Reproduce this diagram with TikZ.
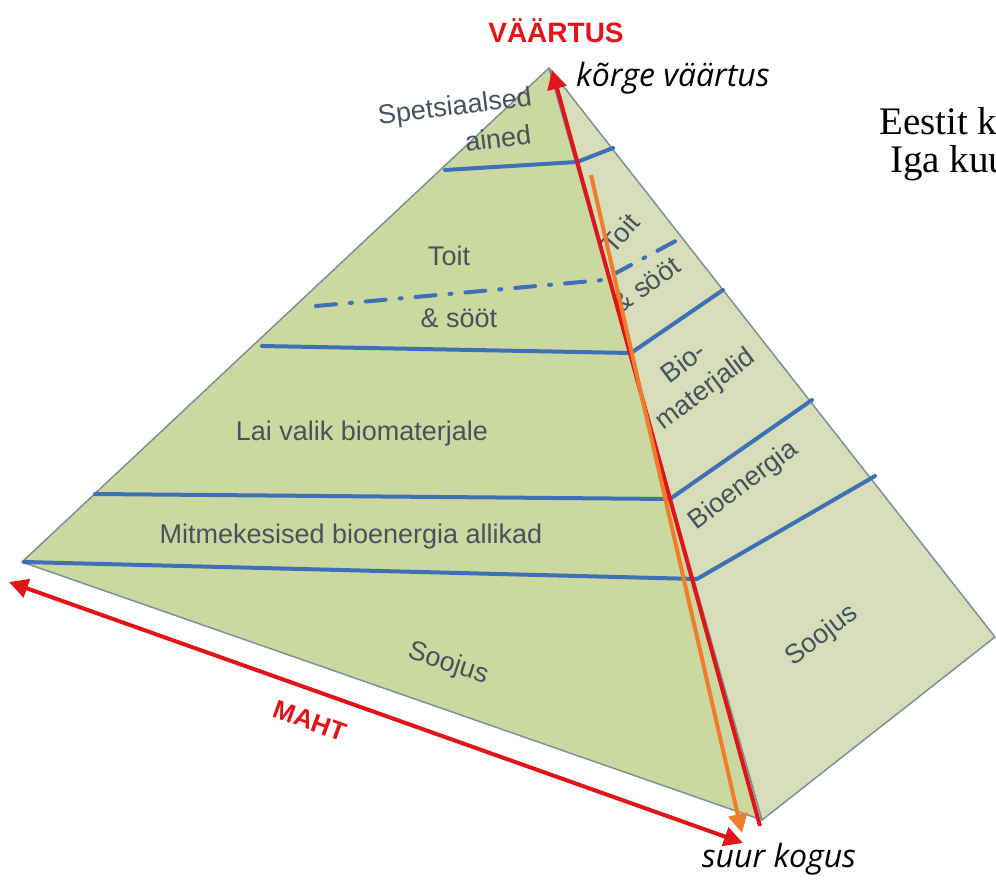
\documentclass[tikz,border=0pt]{standalone}
\usepackage{fontspec}
\setmainfont{Liberation Serif}
\setsansfont{Liberation Sans}
\newfontfamily\notefont{Open Sans}
\usetikzlibrary{arrows.meta}
\definecolor{faceleft}{RGB}{203,216,160}
\definecolor{faceright}{RGB}{215,221,185}
\definecolor{edgegray}{RGB}{125,145,150}
\definecolor{tierblue}{RGB}{62,112,182}
\definecolor{labelgray}{RGB}{72,82,92}
\definecolor{valred}{RGB}{225,20,25}
\definecolor{flowor}{RGB}{240,125,45}

\begin{document}
\begin{tikzpicture}[x=1pt, y=-1pt, >={Triangle[length=19pt,width=19pt]},
  tier/.style={draw=tierblue, line width=4pt, line cap=round, line join=round},
  lbl/.style={font=\sffamily\fontsize{27}{30}\selectfont, text=labelgray, inner sep=0pt},
  rlbl/.style={lbl, rotate=37},
  big/.style={font=\sffamily\bfseries\fontsize{28}{30}\selectfont, text=valred, inner sep=0pt},
  note/.style={font=\notefont\itshape\fontsize{32}{34}\selectfont, inner sep=0pt},
  ax/.style={line width=4pt}]

\useasboundingbox (0,0) rectangle (996,881);
\clip (0,0) rectangle (996,881);

% --- pyramid corners ---
\coordinate (apex) at (549,68);
\coordinate (lc) at (22,562);
\coordinate (fc) at (762,820);
\coordinate (rc) at (995,637);

% --- faces ---
\filldraw[fill=faceleft, draw=edgegray, line width=1.5pt, line join=round] (apex) -- (lc) -- (fc) -- cycle;
\filldraw[fill=faceright, draw=edgegray, line width=1.5pt, line join=round] (apex) -- (fc) -- (rc) -- cycle;

% --- tier lines ---
\draw[tier] (445,170) -- (577,162) -- (613,148);
\draw[tier, dash pattern=on 20pt off 14pt on 2pt off 14pt] (316,306) -- (603,280) -- (683,237);
\draw[tier] (262,346) -- (631,353) -- (723,290);
\draw[tier] (95,494) -- (670,499) -- (812,400);
\draw[tier] (24,562) -- (697,579) -- (875,476);

% --- labels, front face ---
\node[lbl, rotate=7] (spets) at (455,108) {Spetsiaalsed};
\node[lbl, rotate=7] (ained) at (498,138) {ained};
\node[lbl] (toitl) at (449,256) {Toit};
\node[lbl] (sootl) at (459,318) {\& sööt};
\node[lbl] (laiv) at (362,434) {Lai valik biomaterjale};
\node[lbl] (mitme) at (351,537) {Mitmekesised bioenergia allikad};
\node[lbl, rotate=-18] (soojl) at (448,664) {Soojus};

% --- labels, side face ---
\node[lbl, rotate=48] (toitr) at (620,233) {Toit};
\node[lbl, rotate=36] (sootr) at (646,285) {\& sööt};
\node[rlbl] (bio) at (683,362) {Bio-};
\node[rlbl] (materj) at (706,390) {materjalid};
\node[rlbl] (bioen) at (744,486) {Bioenergia};
\node[rlbl] (soojr) at (822,636) {Soojus};

% --- axes ---
\node[big] (vaartus) at (556,31) {VÄÄRTUS};
\node[big, font=\sffamily\bfseries\fontsize{26}{28}\selectfont, rotate=-20] (maht) at (310,721) {MAHT};
\node[note, anchor=west] (korge) at (576,78) {kõrge väärtus};
\node[note] (suur) at (779,859) {suur kogus};

\coordinate (vtop) at (552,70);
\coordinate (vbot) at (760,826);
\coordinate (otop) at (591,175);
\coordinate (obot) at (742,833);
\coordinate (mleft) at (9,582);
\coordinate (mright) at (743,843);

\draw[->, ax, valred] (vbot) -- (vtop);
\draw[->, ax, flowor] (otop) -- (obot);
\draw[<->, ax, valred] (mleft) -- (mright);

% --- side text ---
\node[font=\fontsize{39}{44}\selectfont, anchor=west, inner sep=0pt] (eestit) at (879,121) {Eestit k};
\node[font=\fontsize{39}{44}\selectfont, anchor=west, inner sep=0pt] (iga) at (890,163) {Iga kuu};
\end{tikzpicture}
\end{document}
